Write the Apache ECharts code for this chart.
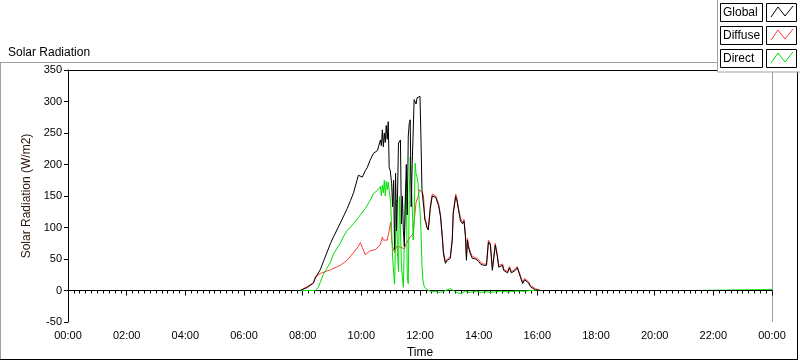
<!DOCTYPE html>
<html>
<head>
<meta charset="utf-8">
<script src="https://cdn.jsdelivr.net/npm/echarts@6/dist/echarts.min.js"></script>
<style>
  html, body { margin: 0; padding: 0; background: #fff; }
  #chart { width: 800px; height: 361px; }
</style>
</head>
<body>
<div id="chart"></div>
<script>
// time in minutes after midnight, values in W/m2
var globalTime = [0, 475, 490, 502, 506, 516, 522, 537, 543, 557, 571, 578, 584, 594, 598, 602, 608, 612, 618, 625, 629, 633, 639, 641, 643, 645, 647, 649, 651, 653, 655, 657, 659, 662, 664, 666, 668, 670, 672, 674, 676, 678, 680, 682, 684, 686, 688, 690, 692, 694, 696, 698, 700, 702, 704, 706, 708, 710, 712, 714, 716, 718, 720, 722, 724, 726, 728, 730, 732, 734, 737, 741, 745, 748, 752, 758, 762, 766, 768, 772, 776, 778, 782, 786, 788, 793, 795, 799, 803, 807, 810, 813, 815, 817, 819, 823, 827, 834, 840, 844, 850, 856, 860, 864, 868, 871, 874, 878, 881, 885, 889, 891, 895, 899, 903, 907, 911, 915, 919, 922, 926, 930, 934, 938, 942, 946, 950, 956, 967, 1440];
var globalValue = [0, 0, 5, 12, 20, 33, 45, 75, 85, 107, 130, 143, 155, 183, 183, 180, 190, 195, 207, 218, 220, 222, 239, 230, 255, 228, 250, 235, 262, 240, 268, 195, 191, 170, 133, 175, 65, 186, 95, 150, 234, 236, 239, 106, 150, 95, 70, 140, 200, 120, 245, 265, 271, 133, 200, 250, 303, 300, 296, 306, 304, 306, 308, 240, 160, 158, 130, 112, 108, 100, 96, 130, 150, 151, 148, 135, 117, 80, 58, 43, 48, 47, 51, 80, 122, 149, 145, 127, 110, 106, 110, 85, 48, 80, 69, 58, 51, 50, 46, 42, 40, 40, 77, 72, 32, 34, 72, 55, 37, 35, 40, 32, 35, 28, 36, 28, 27, 32, 36, 38, 20, 11, 17, 16, 12, 6, 3, 1, 0, 0];

var diffuseTime = [0, 475, 502, 506, 516, 537, 557, 571, 584, 594, 598, 602, 608, 612, 618, 629, 639, 643, 645, 649, 653, 655, 657, 660, 662, 664, 668, 672, 676, 680, 684, 688, 692, 696, 700, 704, 706, 709, 712, 716, 719, 721, 723, 725, 727, 730, 732, 734, 737, 741, 745, 748, 752, 758, 762, 766, 768, 772, 776, 778, 782, 786, 788, 793, 795, 799, 803, 807, 810, 813, 815, 817, 819, 823, 827, 834, 840, 844, 850, 856, 860, 864, 868, 871, 874, 878, 881, 885, 889, 891, 895, 899, 903, 907, 911, 915, 919, 922, 926, 930, 934, 938, 942, 946, 950, 956, 967, 1440];
var diffuseValue = [0, 0, 12, 22, 27, 33, 40, 48, 60, 70, 76, 68, 57, 60, 63, 65, 73, 85, 80, 77, 80, 88, 95, 109, 80, 70, 60, 70, 73, 69, 70, 66, 75, 78, 85, 88, 90, 117, 140, 149, 160, 162, 158, 155, 150, 115, 110, 102, 98, 133, 153, 154, 150, 138, 120, 83, 62, 46, 50, 50, 54, 83, 125, 153, 148, 130, 114, 108, 113, 88, 52, 83, 72, 61, 54, 52, 49, 45, 42, 42, 80, 75, 35, 36, 75, 58, 40, 37, 42, 34, 37, 30, 38, 30, 29, 34, 38, 40, 22, 13, 19, 18, 14, 8, 5, 3, 0, 0];

var directTime = [0, 506, 512, 516, 522, 527, 537, 543, 557, 563, 571, 584, 598, 608, 618, 625, 633, 637, 639, 641, 643, 645, 647, 649, 651, 653, 655, 657, 660, 662, 664, 666, 668, 670, 672, 674, 676, 678, 680, 682, 684, 686, 688, 690, 692, 694, 696, 698, 700, 702, 704, 706, 708, 710, 712, 714, 716, 718, 720, 722, 724, 726, 729, 733, 737, 745, 752, 758, 762, 766, 770, 776, 782, 786, 790, 795, 799, 803, 807, 813, 820, 828, 835, 845, 855, 865, 875, 885, 895, 905, 915, 925, 935, 945, 955, 960, 967, 1272, 1274, 1440];
var directValue = [0, 0, 5, 13, 25, 32, 45, 58, 75, 85, 95, 106, 120, 130, 143, 154, 159, 157, 165, 150, 167, 155, 175, 150, 173, 160, 172, 159, 140, 96, 53, 30, 10, 80, 143, 60, 30, 149, 100, 40, 21, 5, 8, 154, 175, 20, 11, 150, 212, 212, 140, 80, 110, 202, 185, 180, 170, 145, 127, 95, 40, 16, 5, 2, 0, -2, -1, -3, -4, -2, 0, 1, 3, 1, -1, -3, -4, -5, -2, -1, -3, -2, -1, -3, -2, -3, -2, -1, -2, -2, -1, -1, -1, 0, 0, 1, 0, 0, 1.5, 1.5];

var seriesNames = ['Global', 'Diffuse', 'Direct'];
var seriesColors = ['#000000', '#ff3b3b', '#00e000'];

function pairs(t, v) {
    return t.map(function (x, i) { return [x, v[i]]; });
}

function hhmm(v) {
    var m = Math.round(v) % 1440;
    var h = Math.floor(m / 60), mm = m % 60;
    return (h < 10 ? '0' : '') + h + ':' + (mm < 10 ? '0' : '') + mm;
}

var FONT = 'Liberation Sans';
var chart = echarts.init(document.getElementById('chart'), null, { renderer: 'canvas' });

// legend drawn LabVIEW style: name box + sample box
var legendGraphics = [
    { type: 'rect', shape: { x: 717.5, y: -1, width: 84, height: 73 }, style: { fill: '#fff', stroke: '#a0a0a0', lineWidth: 1 }, z: 100 }
];
var zig = [[771, 17], [778, 7], [785, 16], [793, 6]];
seriesNames.forEach(function (name, i) {
    var y = 3.5 + i * 23;
    legendGraphics.push(
        { type: 'rect', shape: { x: 720.5, y: y, width: 42, height: 18 }, style: { fill: '#fff', stroke: '#000', lineWidth: 1 }, z: 101 },
        { type: 'text', x: 723, y: y + 9, style: { text: name, fill: '#000', font: '12px ' + FONT, textVerticalAlign: 'middle' }, z: 102 },
        { type: 'rect', shape: { x: 766.5, y: y, width: 30, height: 18 }, style: { fill: '#fff', stroke: '#000', lineWidth: 1 }, z: 101 },
        { type: 'polyline', shape: { points: zig.map(function (p) { return [p[0], p[1] + i * 23]; }) }, style: { stroke: seriesColors[i], lineWidth: 1, fill: null }, z: 102 }
    );
});

var option = {
    animation: false,
    backgroundColor: '#fff',
    textStyle: { fontFamily: FONT },
    title: {
        text: 'Solar Radiation',
        left: 3, top: 42,
        textStyle: { fontSize: 12, fontWeight: 'normal', color: '#000', fontFamily: FONT }
    },
    legend: { show: false, data: seriesNames },
    grid: { left: 68, right: 28, top: 70, bottom: 39, outerBoundsMode: 'none' },
    xAxis: {
        type: 'value',
        min: 0, max: 1440, interval: 120,
        name: 'Time', nameLocation: 'middle', nameGap: 25,
        nameTextStyle: { fontSize: 12, color: '#000' },
        axisLine: { lineStyle: { color: '#000', width: 1 } },
        axisTick: { length: 5, lineStyle: { color: '#000' } },
        minorTick: { show: true, splitNumber: 10, length: 3, lineStyle: { color: '#000' } },
        axisLabel: { formatter: hhmm, fontSize: 11, color: '#000', margin: 8 },
        splitLine: { show: false }
    },
    yAxis: {
        type: 'value',
        min: -50, max: 350, interval: 50,
        name: 'Solar Radiation (W/m2)', nameLocation: 'middle', nameGap: 31,
        nameTextStyle: { fontSize: 12, color: '#2a1408' },
        axisLine: { show: true, lineStyle: { color: '#000', width: 1 } },
        axisTick: { show: true, length: 4, lineStyle: { color: '#000' } },
        axisLabel: { fontSize: 11, color: '#000', margin: 6 },
        splitLine: { show: false }
    },
    graphic: [
        // outer panel frame
        { type: 'line', shape: { x1: 0, y1: 62.5, x2: 718, y2: 62.5 }, style: { stroke: '#a0a0a0', lineWidth: 1 } },
        { type: 'line', shape: { x1: 0.5, y1: 62, x2: 0.5, y2: 359 }, style: { stroke: '#a0a0a0', lineWidth: 1 } },
        { type: 'line', shape: { x1: 0, y1: 359.5, x2: 798, y2: 359.5 }, style: { stroke: '#000', lineWidth: 1 } },
        { type: 'line', shape: { x1: 797.5, y1: 62, x2: 797.5, y2: 360 }, style: { stroke: '#000', lineWidth: 1 } },
        // plot top and right border
        { type: 'line', shape: { x1: 68, y1: 70.5, x2: 772, y2: 70.5 }, style: { stroke: '#000', lineWidth: 1 } },
        { type: 'line', shape: { x1: 772.5, y1: 70, x2: 772.5, y2: 322 }, style: { stroke: '#a0a0a0', lineWidth: 1 } }
    ].concat(legendGraphics),
    series: [
        {
            name: 'Diffuse', type: 'line', data: pairs(diffuseTime, diffuseValue),
            showSymbol: false, symbol: 'none', z: 2,
            lineStyle: { color: seriesColors[1], width: 1 }, itemStyle: { color: seriesColors[1] }
        },
        {
            name: 'Direct', type: 'line', data: pairs(directTime, directValue),
            showSymbol: false, symbol: 'none', z: 3,
            lineStyle: { color: seriesColors[2], width: 1 }, itemStyle: { color: seriesColors[2] }
        },
        {
            name: 'Global', type: 'line', data: pairs(globalTime, globalValue),
            showSymbol: false, symbol: 'none', z: 4,
            lineStyle: { color: seriesColors[0], width: 1 }, itemStyle: { color: seriesColors[0] }
        }
    ]
};

if (option && typeof option === "object") {
    chart.setOption(option, true);
}
</script>
</body>
</html>
